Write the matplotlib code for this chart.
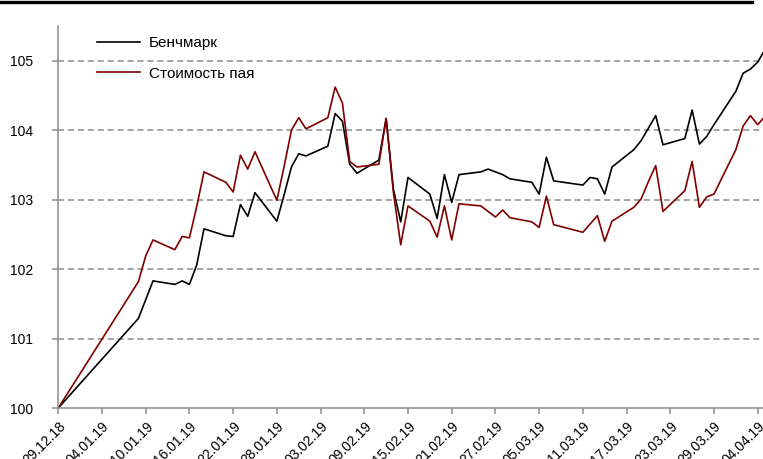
import matplotlib
matplotlib.use("Agg")
import matplotlib.pyplot as plt
import matplotlib.dates as mdates
from matplotlib.lines import Line2D
import pandas as pd

plt.rcParams["font.family"] = ["Liberation Sans", "DejaVu Sans"]

dates = [
    "29.12.18", "09.01.19", "10.01.19", "11.01.19", "14.01.19", "15.01.19", "16.01.19",
    "17.01.19", "18.01.19", "21.01.19", "22.01.19", "23.01.19", "24.01.19", "25.01.19",
    "28.01.19", "29.01.19", "30.01.19", "31.01.19", "01.02.19", "04.02.19", "05.02.19",
    "06.02.19", "07.02.19", "08.02.19", "11.02.19", "12.02.19", "13.02.19", "14.02.19",
    "15.02.19", "18.02.19", "19.02.19", "20.02.19", "21.02.19", "22.02.19", "25.02.19",
    "26.02.19", "27.02.19", "28.02.19", "01.03.19", "04.03.19", "05.03.19", "06.03.19",
    "07.03.19", "11.03.19", "12.03.19", "13.03.19", "14.03.19", "15.03.19", "18.03.19",
    "19.03.19", "20.03.19", "21.03.19", "22.03.19", "25.03.19", "26.03.19", "27.03.19",
    "28.03.19", "29.03.19", "01.04.19", "02.04.19", "03.04.19", "04.04.19", "05.04.19",
]

benchmark = [
    100.00, 101.29, 101.56, 101.83, 101.78, 101.83, 101.78,
    102.06, 102.58, 102.48, 102.47, 102.93, 102.76, 103.10,
    102.69, 103.07, 103.47, 103.66, 103.63, 103.77, 104.24,
    104.13, 103.51, 103.38, 103.57, 104.17, 103.15, 102.68,
    103.32, 103.08, 102.73, 103.36, 102.96, 103.36, 103.40,
    103.44, 103.40, 103.36, 103.30, 103.25, 103.08, 103.61,
    103.27, 103.21, 103.32, 103.30, 103.08, 103.47, 103.72,
    103.85, 104.03, 104.21, 103.79, 103.88, 104.29, 103.80,
    103.91, 104.08, 104.56, 104.82, 104.88, 104.98, 105.16,
]

fund = [
    100.00, 101.82, 102.19, 102.42, 102.28, 102.47, 102.45,
    102.90, 103.40, 103.25, 103.11, 103.64, 103.44, 103.69,
    102.99, 103.48, 104.00, 104.18, 104.02, 104.18, 104.62,
    104.39, 103.55, 103.47, 103.51, 104.17, 103.10, 102.35,
    102.91, 102.69, 102.46, 102.91, 102.42, 102.94, 102.91,
    102.83, 102.75, 102.85, 102.74, 102.68, 102.60, 103.05,
    102.64, 102.53, 102.65, 102.77, 102.40, 102.69, 102.89,
    103.01, 103.26, 103.49, 102.83, 103.13, 103.55, 102.89,
    103.04, 103.08, 103.72, 104.06, 104.21, 104.08, 104.20,
]

tick_labels = [
    "29.12.18", "04.01.19", "10.01.19", "16.01.19", "22.01.19", "28.01.19",
    "03.02.19", "09.02.19", "15.02.19", "21.02.19", "27.02.19", "05.03.19",
    "11.03.19", "17.03.19", "23.03.19", "29.03.19", "04.04.19",
]

x = pd.to_datetime(dates, format="%d.%m.%y")
ticks = pd.to_datetime(tick_labels, format="%d.%m.%y")

fig = plt.figure(figsize=(7.63, 4.59), dpi=100)
ax = fig.add_axes([0.0764, 0.1111, 0.9236, 0.8322])

grey = "#8c8c8c"
ax.plot(x, benchmark, color="black", lw=1.2, label="Бенчмарк")
ax.plot(x, fund, color="#800000", lw=1.2, label="Стоимость пая")

ax.set_ylim(100, 105.5)
ax.set_xlim(x[0], pd.Timestamp("2019-04-04 17:30"))
ax.set_yticks([100, 101, 102, 103, 104, 105])
ax.set_xticks(ticks)
ax.set_xticklabels(tick_labels, rotation=45, ha="right", rotation_mode="anchor")

for v in [101, 102, 103, 104, 105]:
    ax.axhline(v, color=grey, lw=1.1, ls=(0, (4, 2.5)), zorder=0)

for s in ["top", "right"]:
    ax.spines[s].set_visible(False)
for s in ["left", "bottom"]:
    ax.spines[s].set_color(grey)
    ax.spines[s].set_linewidth(1.1)

ax.tick_params(axis="y", colors=grey, labelcolor="black", labelsize=10, length=4, width=1.1, pad=14)
ax.tick_params(axis="x", colors=grey, labelcolor="black", labelsize=10, length=4, width=1.1, pad=4)

ax.legend(loc="upper left", bbox_to_anchor=(97 / 763, 1 - 36 / 459),
          bbox_transform=fig.transFigure, frameon=False, fontsize=11,
          handlelength=2.8, handletextpad=0.6, labelspacing=1.1, borderpad=0, borderaxespad=0)

fig.add_artist(Line2D([0, 0.985], [0.995, 0.995], transform=fig.transFigure, color="black", lw=2.4))

fig.savefig("out.png", dpi=100)
